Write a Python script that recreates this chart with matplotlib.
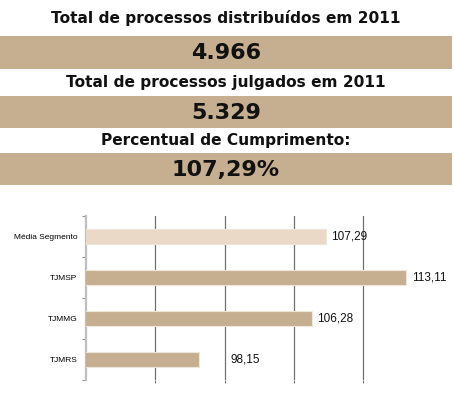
import matplotlib.pyplot as plt
from matplotlib.patches import Rectangle

# Header values
header_titles = ['Total de processos distribuídos em 2011',
                 'Total de processos julgados em 2011',
                 'Percentual de Cumprimento:']
header_values = ['4.966', '5.329', '107,29%']

# Bar chart data
categories = ['Média Segmento', 'TJMSP', 'TJMMG', 'TJMRS']
values = [107.29, 113.11, 106.28, 98.15]
value_labels = ['107,29', '113,11', '106,28', '98,15']

tan = '#C6AE90'
light_tan = '#EBD9C7'

fig = plt.figure(figsize=(4.54, 3.98), dpi=100)

# Header drawn in pixel coordinates
hdr = fig.add_axes([0, 0, 1, 1])
hdr.set_xlim(0, 454)
hdr.set_ylim(398, 0)
hdr.axis('off')

title_y = [18, 83, 140]
box_top = [36, 95.5, 152.5]
box_h = 32.5
for title, val, ty, bt in zip(header_titles, header_values, title_y, box_top):
    hdr.add_patch(Rectangle((0, bt), 452, box_h, facecolor=tan, edgecolor='none'))
    hdr.text(226, ty, title, ha='center', va='center', fontsize=11.1,
             fontweight='bold', color='#111111', family='DejaVu Sans')
    hdr.text(226, bt + box_h / 2 + 1, val, ha='center', va='center', fontsize=16,
             fontweight='bold', color='#111111', family='DejaVu Sans')

# Horizontal bar chart
ax = fig.add_axes([86 / 454, 18 / 398, (432.5 - 86) / 454, 164 / 398])
pos = list(range(len(categories)))
colors = [light_tan] + [tan] * (len(categories) - 1)
ax.barh(pos, values, height=0.39, color=colors, edgecolor='#EFE6DA',
        linewidth=0.8, zorder=3)
ax.set_xlim(90, 115)
ax.set_ylim(3.5, -0.5)

ax.set_xticks([95, 100, 105, 110])
ax.set_xticklabels([])
ax.tick_params(axis='x', length=2, color='#707070', width=0.8)
ax.grid(axis='x', color='#707070', linewidth=0.9, zorder=0)

ax.set_yticks(pos)
ax.set_yticklabels(categories, fontsize=6, family='Liberation Sans')
ax.set_yticks([-0.5, 0.5, 1.5, 2.5, 3.5], minor=True)
ax.tick_params(axis='y', which='major', length=0, pad=6)
ax.tick_params(axis='y', which='minor', length=3, color='#909090', width=0.8)

for s in ['top', 'right', 'bottom']:
    ax.spines[s].set_visible(False)
ax.spines['left'].set_color('#BFBFBF')
ax.spines['left'].set_linewidth(1.6)

for p, v, lab in zip(pos, values, value_labels):
    ax.annotate(lab, xy=(max(v, 100), p), xytext=(4, 0), textcoords='offset points',
                va='center', ha='left', fontsize=8.5, family='Liberation Sans',
                color='#111111')

fig.savefig('out.png', dpi=100)
